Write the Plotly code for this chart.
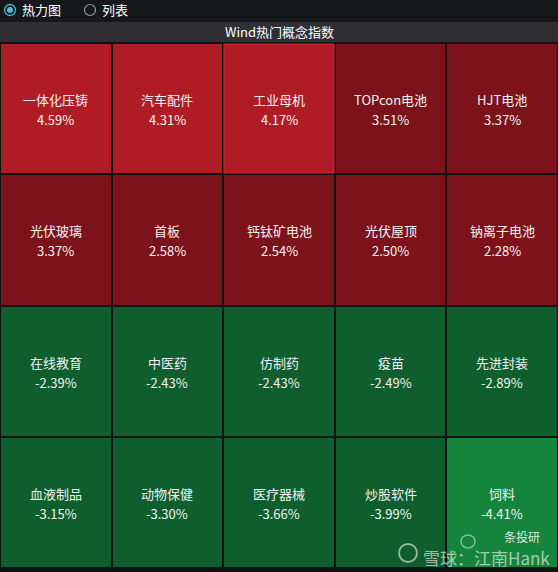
import plotly.graph_objects as go

# ---- data ----
names = [
    ["一体化压铸", "汽车配件", "工业母机", "TOPcon电池", "HJT电池"],
    ["光伏玻璃", "首板", "钙钛矿电池", "光伏屋顶", "钠离子电池"],
    ["在线教育", "中医药", "仿制药", "疫苗", "先进封装"],
    ["血液制品", "动物保健", "医疗器械", "炒股软件", "饲料"],
]
values = [
    [4.59, 4.31, 4.17, 3.51, 3.37],
    [3.37, 2.58, 2.54, 2.50, 2.28],
    [-2.39, -2.43, -2.43, -2.49, -2.89],
    [-3.15, -3.30, -3.66, -3.99, -4.41],
]
title = "Wind热门概念指数"
tabs = ["热力图", "列表"]

W, H = 558, 572
T, B = 43, 4
PH = H - T - B

def py(p):  # pixel y (from top) -> paper y
    return (H - B - p) / PH

def px(p):
    return p / W

BR, DR, DG, BG = "#b01c25", "#7c131a", "#0e5e2e", "#15853d"
colorscale = [[0, BG], [0.1, BG], [0.1, DG], [0.5, DG], [0.5, DR], [0.9, DR], [0.9, BR], [1, BR]]

fig = go.Figure(go.Heatmap(
    z=values,
    x=list(range(5)),
    y=list(range(4)),
    colorscale=colorscale,
    zmin=-5, zmax=5,
    showscale=False,
    xgap=2, ygap=2,
    hoverinfo="skip",
))

FONT = "Noto Sans CJK SC"
annotations = []
for r, (rn, rv) in enumerate(zip(names, values)):
    for c, (n, v) in enumerate(zip(rn, rv)):
        annotations.append(dict(text=n, x=c, y=r, xref="x", yref="y", showarrow=False,
                                yshift=9, font=dict(family=FONT, size=13, color="#f2f2f2")))
        annotations.append(dict(text=f"{v:.2f}%", x=c, y=r, xref="x", yref="y", showarrow=False,
                                yshift=-11, font=dict(family=FONT, size=13, color="#f2f2f2")))

shapes = [
    dict(type="rect", xref="paper", yref="paper", x0=0, x1=1, y0=py(22), y1=py(0),
         fillcolor="#15171b", line_width=0, layer="below"),
    dict(type="rect", xref="paper", yref="paper", x0=0, x1=1, y0=py(42), y1=py(22),
         fillcolor="#2f2f34", line_width=0, layer="below"),
    # radio buttons
    dict(type="circle", xref="paper", yref="paper", x0=px(4.5), x1=px(15.5), y0=py(15.5), y1=py(4.5),
         line=dict(color="#3fc3dc", width=1.3), fillcolor="rgba(0,0,0,0)"),
    dict(type="circle", xref="paper", yref="paper", x0=px(7), x1=px(13), y0=py(13), y1=py(7),
         line_width=0, fillcolor="#3fc3dc"),
    dict(type="circle", xref="paper", yref="paper", x0=px(84.5), x1=px(95.5), y0=py(15.5), y1=py(4.5),
         line=dict(color="#9a9a9a", width=1.2), fillcolor="rgba(0,0,0,0)"),
    # highlighted cell border
    dict(type="rect", xref="paper", yref="paper", x0=px(224), x1=px(334), y0=py(173), y1=py(44),
         line=dict(color="#d42631", width=1), fillcolor="rgba(0,0,0,0)"),
    # watermark icons
    dict(type="circle", xref="paper", yref="paper", x0=px(399), x1=px(417), y0=py(562), y1=py(544),
         line=dict(color="rgba(255,255,255,0.55)", width=2), fillcolor="rgba(0,0,0,0)"),
    dict(type="circle", xref="paper", yref="paper", x0=px(461), x1=px(475), y0=py(548), y1=py(535),
         line=dict(color="rgba(255,255,255,0.45)", width=1.5), fillcolor="rgba(0,0,0,0)"),
]

annotations += [
    dict(text=title, xref="paper", yref="paper", x=0.5, y=py(32), showarrow=False,
         font=dict(family=FONT, size=13, color="#ffffff"), xanchor="center", yanchor="middle"),
    dict(text=tabs[0], xref="paper", yref="paper", x=px(20), y=py(10), showarrow=False,
         font=dict(family=FONT, size=13, color="#ffffff"), xanchor="left", yanchor="middle"),
    dict(text=tabs[1], xref="paper", yref="paper", x=px(100), y=py(10), showarrow=False,
         font=dict(family=FONT, size=13, color="#ffffff"), xanchor="left", yanchor="middle"),
    dict(text="条投研", xref="paper", yref="paper", x=px(502), y=py(536), showarrow=False,
         font=dict(family=FONT, size=12, color="rgba(255,255,255,0.85)"),
         xanchor="left", yanchor="middle"),
    dict(text="雪球：江南Hank", xref="paper", yref="paper", x=px(421), y=py(557), showarrow=False,
         font=dict(family=FONT, size=17, color="rgba(255,255,255,0.6)"),
         xanchor="left", yanchor="middle"),
]

fig.update_layout(
    width=W, height=H,
    margin=dict(l=0, r=0, t=T, b=B, pad=0),
    paper_bgcolor="#111214",
    plot_bgcolor="#111214",
    xaxis=dict(visible=False, range=[-0.5, 4.5], fixedrange=True),
    yaxis=dict(visible=False, range=[3.5, -0.5], fixedrange=True),
    shapes=shapes,
    annotations=annotations,
)

fig.write_html("out.html", config={"displayModeBar": False})
